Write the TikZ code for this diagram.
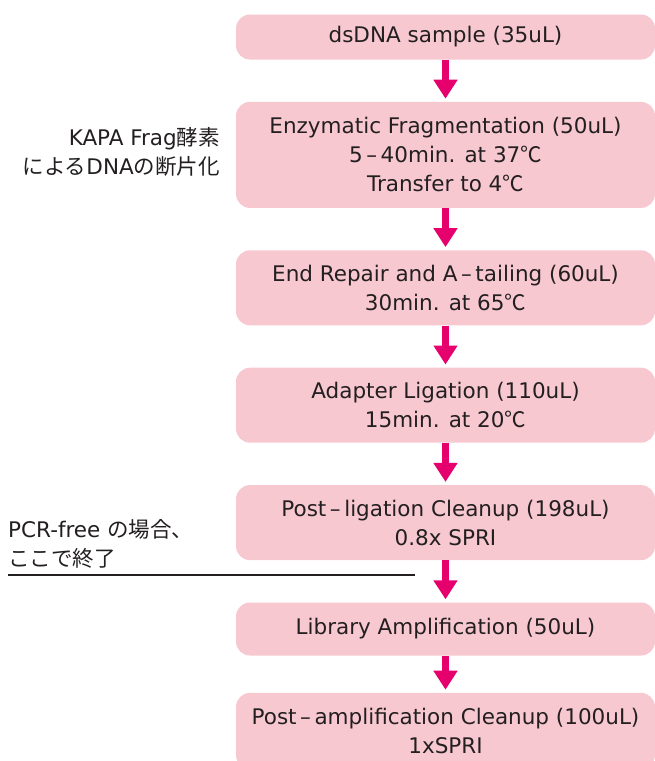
\documentclass[tikz,border=0pt]{standalone}
\usepackage{fontspec}
\setmainfont{DejaVu Sans}
\newfontfamily\jpfont{Noto Sans CJK JP}
\newcommand{\jp}[1]{{\jpfont #1}}
\usetikzlibrary{arrows.meta, positioning}

\definecolor{boxpink}{HTML}{F8C8D1}
\definecolor{arrowpink}{HTML}{E6006E}
\definecolor{textgray}{HTML}{231F20}

\begin{document}
\begin{tikzpicture}[x=1pt, y=-1pt, node distance=42pt,
    every node/.style={text=textgray, font=\fontsize{21.5}{29}\selectfont},
    stepbox/.style={rectangle, rounded corners=14pt, fill=boxpink, minimum width=419pt, inner sep=0pt, align=center},
    flow/.style={draw=arrowpink, line width=7pt, -{Triangle[width=23pt, length=19pt]}, shorten >=3pt}]
        \useasboundingbox (0,0) rectangle (655,761);
        \clip (0,0) rectangle (655,761);

        % Protocol steps
        \node[stepbox, minimum height=45pt] (sample) at (445.5,37) {dsDNA sample (35uL)};
        \node[stepbox, minimum height=106pt, below=of sample] (frag) {Enzymatic Fragmentation (50uL)\\5\,--\,40min. at 37\jp{℃}\\Transfer to 4\jp{℃}};
        \node[stepbox, minimum height=75pt, below=of frag] (repair) {End Repair and A\,--\,tailing (60uL)\\30min. at 65\jp{℃}};
        \node[stepbox, minimum height=75pt, below=of repair] (ligate) {Adapter Ligation (110uL)\\15min. at 20\jp{℃}};
        \node[stepbox, minimum height=75pt, below=of ligate] (cleanA) {Post\,--\,ligation Cleanup (198uL)\\0.8x SPRI};
        \node[stepbox, minimum height=53pt, below=of cleanA] (amplify) {Library Amplification (50uL)};
        \node[stepbox, minimum height=76pt, below=37pt of amplify] (cleanB) {Post\,--\,amplification Cleanup (100uL)\\1xSPRI};

        % Arrows between steps
        \foreach \a/\b in {sample/frag, frag/repair, repair/ligate, ligate/cleanA, cleanA/amplify, amplify/cleanB} {
            \draw[flow] (\a.south) -- (\b.north);
        }

        % Side notes
        \node[align=right, anchor=east, inner sep=0pt] (fragnote) at (220,152) {KAPA Frag\jp{酵素}\\\jp{による}DNA\jp{の断片化}};
        \node[align=left, anchor=west, inner sep=0pt] (freenote) at (8,544) {PCR-free \jp{の場合、}\\\jp{ここで終了}};
        \coordinate (stopL) at (8,575);
        \coordinate (stopR) at (415,575);
        \draw[line width=1.6pt, textgray] (stopL) -- (stopR);
\end{tikzpicture}
\end{document}
